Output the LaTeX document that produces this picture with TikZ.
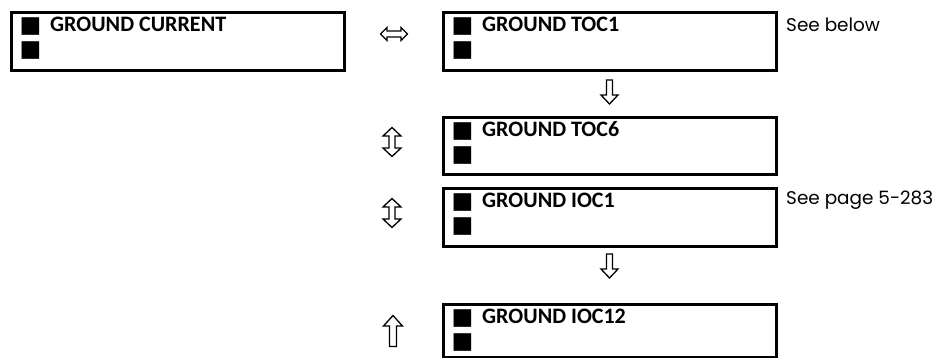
\documentclass[tikz,border=0pt]{standalone}
\usepackage{fontspec}
\setmainfont{Carlito}
\newfontfamily\seefont{Poppins}
\newfontfamily\symfont{DejaVu Sans}
\usetikzlibrary{calc}
\newlength\seewidth
\newlength\ttlwidth
\begin{document}
\settowidth\seewidth{\seefont\fontsize{10}{10}\selectfont See page 5-283}%
\settowidth\ttlwidth{\bfseries\fontsize{10}{10}\selectfont GROUND CURRENT}%
\pgfmathsetmacro\seesize{10*147/\seewidth}%
\pgfmathsetmacro\ttlsize{10*176/\ttlwidth}%
\begin{tikzpicture}[x=1pt,y=-1pt,
  menubox/.style={draw, line width=3pt, rectangle, inner sep=0pt, anchor=north west, minimum width=333pt},
  sq/.style={anchor=base west, inner sep=0pt, font=\symfont\fontsize{23}{23}\selectfont},
  ttl/.style={anchor=base west, inner sep=0pt, font=\bfseries\fontsize{\ttlsize}{\ttlsize}\selectfont},
  note/.style={anchor=base west, inner sep=0pt, font=\seefont\fontsize{\seesize}{\seesize}\selectfont},
  arrowline/.style={draw, line width=1.3pt, line join=miter},
  downarr/.pic={\path[arrowline] (-3,-12) -- (3,-12) -- (3,3) -- (8.5,3) -- (0,12) -- (-8.5,3) -- (-3,3) -- cycle;},
  uparr/.pic={\path[arrowline] (0,-15.5) -- (9.5,-5) -- (3.5,-5) -- (3.5,15.5) -- (-3.5,15.5) -- (-3.5,-5) -- (-9.5,-5) -- cycle;},
  updownarr/.pic={\path[arrowline] (0,-14.5) -- (9,-6) -- (3,-6) -- (3,6) -- (9,6) -- (0,14.5) -- (-9,6) -- (-3,6) -- (-3,-6) -- (-9,-6) -- cycle;},
  lrarr/.pic={\path[arrowline] (-13.5,0) -- (-7,-6.5) -- (-7,-3) -- (7,-3) -- (7,-6.5) -- (13.5,0) -- (7,6.5) -- (7,3) -- (-7,3) -- (-7,6.5) -- cycle;}
]
\useasboundingbox (0,0) rectangle (938,358);
\fill[white] (0,0) rectangle (938,358);
\foreach \nm/\xx/\yy/\hh/\tx in {gc/9.5/11.5/58/GROUND CURRENT, toca/441.5/11.5/58/GROUND TOC1, tocf/441.5/116.5/57/GROUND TOC6, ioca/441.5/187.5/58/GROUND IOC1, iocl/441.5/303.5/53/GROUND IOC12}{
  \node[menubox, minimum height=\hh pt] (\nm) at (\xx,\yy) {};
  \node[sq] (\nm s1) at ($(\nm.north west)+(10,21)$) {■};
  \node[sq] (\nm s2) at ($(\nm.north west)+(10,45)$) {■};
  \node[ttl] (\nm t) at ($(\nm.north west)+(40.5,20.5)$) {\tx};
}
\node[note] (seebelow) at (786,31.5) {See below};
\node[note] (seepage) at (786,204.5) {See page 5-283};
\pic at (394,34) {lrarr};
\pic at ($(toca.south)+(0,19.5)$) {downarr};
\pic at (392,142) {updownarr};
\pic at (392,213) {updownarr};
\pic at ($(ioca.south)+(0,17.5)$) {downarr};
\pic at (393,331) {uparr};
\end{tikzpicture}
\end{document}
